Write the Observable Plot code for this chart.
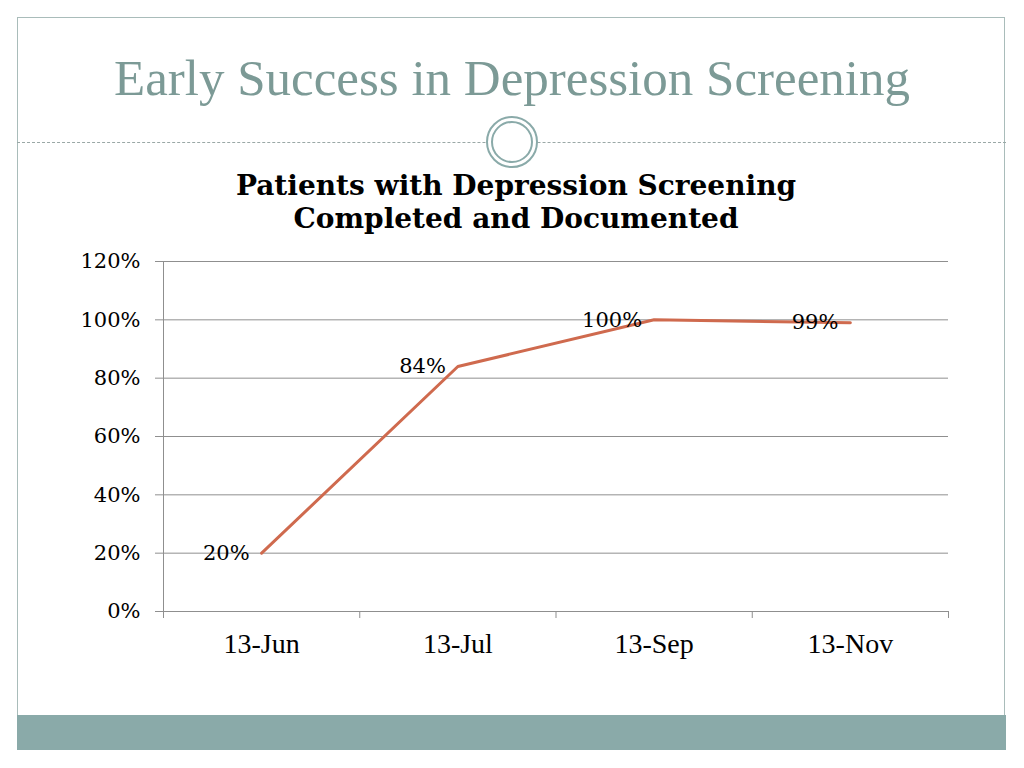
<!DOCTYPE html>
<html>
<head>
<meta charset="utf-8">
<script src="https://cdn.jsdelivr.net/npm/d3@7"></script>
<script src="https://cdn.jsdelivr.net/npm/@observablehq/plot@0.6"></script>
<style>
  html, body { margin: 0; padding: 0; background: #fff; }
  #slide { position: relative; width: 1024px; height: 768px; overflow: hidden; background: #fff; }
  #frame { position: absolute; left: 17px; top: 17px; width: 988px; height: 732px; border: 1px solid #a9bcba; box-sizing: border-box; }
  #bar { position: absolute; left: 17px; top: 715px; width: 989px; height: 35px; background: #8aaaa9; }
  #title { position: absolute; left: 0; top: 48px; width: 1024px; text-align: center; font-family: "Liberation Serif", serif; font-size: 51px; color: #7c9a96; line-height: 60px; }
  #rule { position: absolute; left: 17px; top: 142px; width: 989px; height: 0; border-top: 1px dashed #9aa8a6; }
  #ring { position: absolute; left: 486px; top: 116px; width: 52px; height: 52px; border-radius: 50%; background: #fff; border: 2px solid #8aaaa9; box-sizing: border-box; }
  #ring::after { content: ""; position: absolute; left: 3px; top: 3px; right: 3px; bottom: 3px; border-radius: 50%; border: 2px solid #8aaaa9; }
  #ctitle { position: absolute; left: 0; top: 169px; width: 1032px; text-align: center; font-family: "DejaVu Serif", serif; font-weight: bold; font-size: 28px; line-height: 33px; color: #000; }
  #chart { position: absolute; left: 0; top: 240px; }
</style>
</head>
<body>
<div id="slide">
  <div id="frame"></div>
  <div id="bar"></div>
  <div id="title">Early Success in Depression Screening</div>
  <div id="rule"></div>
  <div id="ring"></div>
  <div id="ctitle">Patients with Depression Screening<br>Completed and Documented</div>
  <div id="chart"></div>
</div>
<script>
const months = ["13-Jun", "13-Jul", "13-Sep", "13-Nov"];
const values = [0.20, 0.84, 1.00, 0.99];
const labels = ["20%", "84%", "100%", "99%"];
const yTicks = [0, 0.2, 0.4, 0.6, 0.8, 1.0, 1.2];

const data = months.map((m, i) => ({month: m, idx: i, value: values[i], label: labels[i]}));
const pos = d => d.idx + 0.5;
const pct = d3.format(".0%");
const serif = "DejaVu Serif";

const chart = Plot.plot({
  width: 1024,
  height: 420,
  marginTop: 21,
  marginLeft: 163,
  marginRight: 76,
  marginBottom: 49,
  style: {background: "transparent"},
  x: {type: "linear", domain: [0, months.length], axis: null},
  y: {domain: [0, 1.2], axis: null},
  marks: [
    Plot.gridY(yTicks, {stroke: "#8f8f8f", strokeOpacity: 1, strokeWidth: 1}),
    Plot.ruleX([0], {stroke: "#8f8f8f"}),
    Plot.ruleY([0], {stroke: "#8f8f8f"}),
    Plot.axisY(yTicks, {anchor: "left", tickSize: 8, tickPadding: 15, tickFormat: pct, fontSize: 21, fontFamily: serif, stroke: "#8f8f8f", fill: "#000", label: null}),
    Plot.axisX(d3.range(months.length + 1), {anchor: "bottom", tickSize: 7, tickFormat: () => "", stroke: "#8f8f8f", label: null}),
    Plot.axisX(data.map(pos), {anchor: "bottom", tickSize: 0, tickPadding: 22, tickFormat: d => months[Math.floor(d)], fontSize: 28, fontFamily: "Liberation Serif", fill: "#000", label: null}),
    Plot.line(data, {x: pos, y: "value", stroke: "#cf6a4e", strokeWidth: 3}),
    Plot.text(data, {x: pos, y: "value", text: "label", textAnchor: "end", dx: -12, fontSize: 21, fontFamily: serif, fill: "#000"})
  ]
});
document.getElementById("chart").appendChild(chart);
</script>
</body>
</html>
